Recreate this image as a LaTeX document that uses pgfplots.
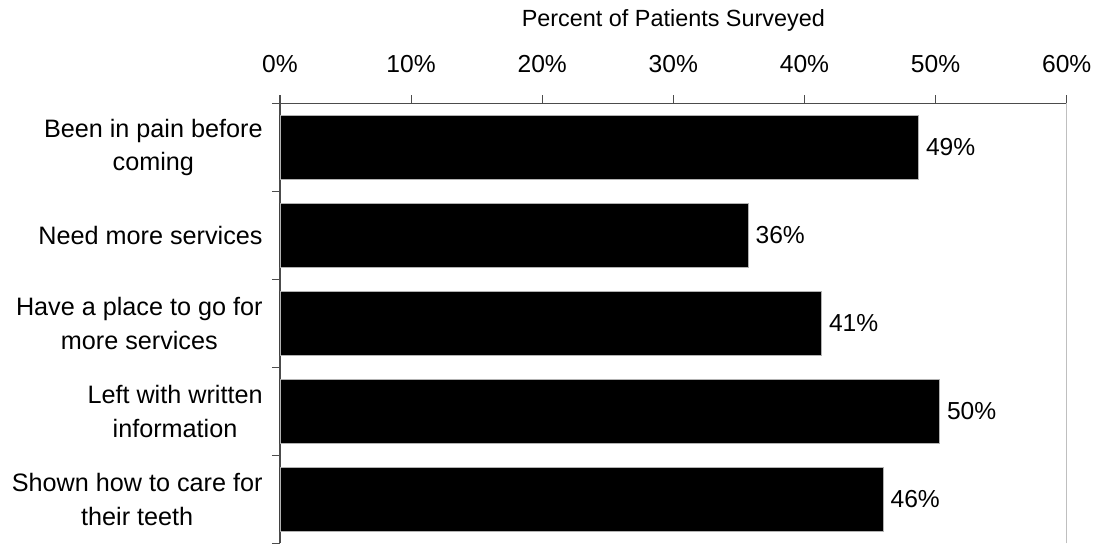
\documentclass[border=0pt]{standalone}
\usepackage{fontspec}
\setmainfont{Liberation Sans}
\usepackage{pgfplots}
\usepackage{pgfplotstable}
\pgfplotsset{compat=1.18}
\pgfplotstableread{
y v l
4 48.7 49\%
3 35.7 36\%
2 41.3 41\%
1 50.3 50\%
0 46.0 46\%
}\datatable
\newcommand\lf{\fontsize{12.3}{16.5}\selectfont}
\newcommand\cf{\fontsize{12.6}{16.6}\selectfont}
\newcommand\tf{\fontsize{11.7}{14}\selectfont}
\begin{document}
\begin{tikzpicture}
\begin{axis}[
 scale only axis, width=393.35pt, height=220.1pt,
 xmin=0, xmax=60, ymin=-0.5, ymax=4.5,
 axis x line*=top, axis y line*=left,
 axis line style={black!70, line width=0.6pt},
 xtick={0,10,...,60},
 xticklabels={0\%,10\%,20\%,30\%,40\%,50\%,60\%},
 tick align=outside,
 major tick length=4pt, minor tick length=4pt,
 tick style={black!70, line width=0.6pt},
 ytick={0,...,4},
 yticklabels={{Shown how to care for\\their teeth},{Left with written\\information},{Have a place to go for\\more services},{Need more services},{Been in pain before\\coming}},
 major y tick style={draw=none},
 minor y tick style={black!70, line width=0.6pt},
 minor ytick={-0.5,0.5,...,4.5},
 yticklabel style={align=center, font=\cf, inner sep=0pt, xshift=-4.5pt},
 xticklabel style={font=\lf, yshift=7.8pt},
 clip=false,
]
\draw[black!25, line width=0.6pt] (axis cs:60,-0.5) -- (axis cs:60,4.5);
\addplot[xbar, bar width=0.73, fill=black, draw=black!30, line width=0.3pt,
  nodes near coords, point meta=explicit symbolic,
  nodes near coords style={font=\lf, anchor=west, inner sep=3.6pt}]
  table[x=v, y=y, meta=l] {\datatable};
\node[font=\tf, anchor=base] at (rel axis cs:0.5,1.174) {Percent of Patients Surveyed};
\coordinate (bbsw) at (rel axis cs:-0.3559,0);
\coordinate (bbne) at (rel axis cs:1.0398,1.2347);
\end{axis}
\pgfresetboundingbox
\path (bbsw) rectangle (bbne);
\end{tikzpicture}
\end{document}
